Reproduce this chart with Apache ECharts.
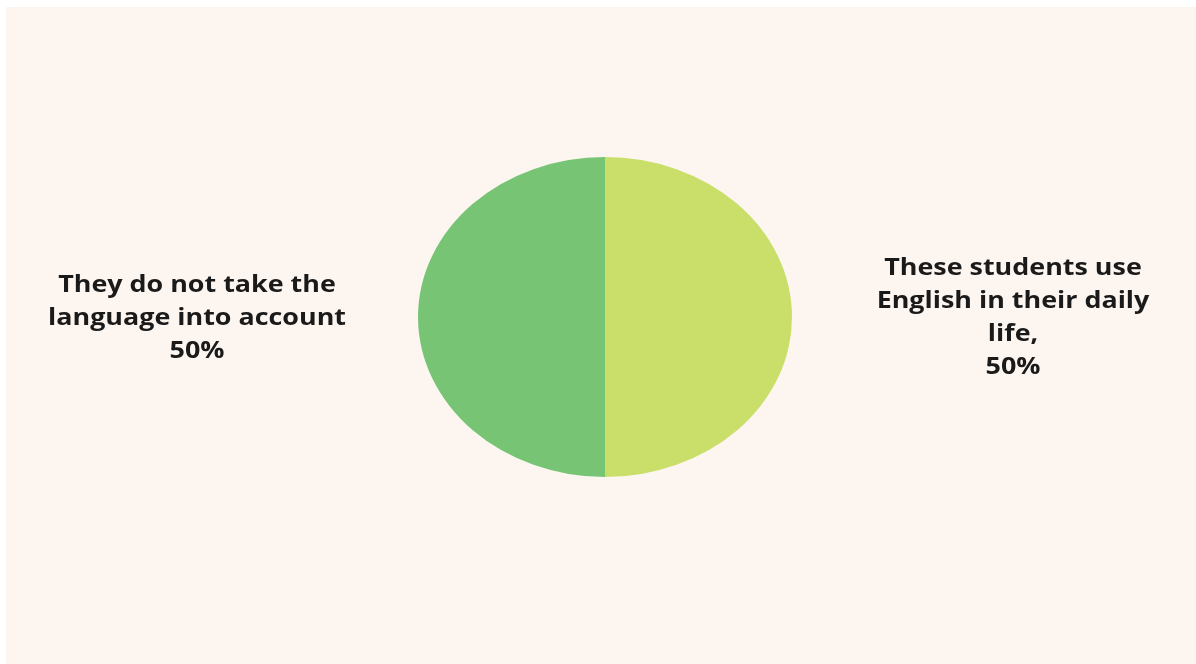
<!DOCTYPE html>
<html>
<head>
<meta charset="utf-8">
<script src="https://cdn.jsdelivr.net/npm/echarts@6/dist/echarts.min.js"></script>
<style>
  html, body { margin: 0; padding: 0; background: #ffffff; }
  #chart { position: absolute; left: 6px; top: 7px; width: 1190px; height: 657px; }
</style>
</head>
<body>
<div id="chart"></div>
<script>
// Slices, clockwise from 12 o'clock
const categories = [
  'These students use\nEnglish in their daily\nlife,',
  'They do not take the\nlanguage into account'
];
const values = [50, 50];
const colors = ['#c9df69', '#77c475'];

const chart = echarts.init(document.getElementById('chart'));

const total = values.reduce((a, b) => a + b, 0);
const starts = [];
let acc = 0;
values.forEach(v => { starts.push(acc); acc += v; });

// Whole figure is stretched horizontally: pie is an ellipse, text is widened too
const CX = 599, CY = 310, RX = 187, RY = 160, LABEL_GAP = 221;
const STRETCH = RX / RY;

function renderSlice(params, api) {
  const i = params.dataIndex;
  const v = api.value(0);
  const a0 = -Math.PI / 2 + starts[i] / total * Math.PI * 2;
  const a1 = a0 + v / total * Math.PI * 2;
  const mid = (a0 + a1) / 2;
  const lx = CX + Math.cos(mid) * (RX + LABEL_GAP);
  return {
    type: 'group',
    children: [
      {
        type: 'sector',
        x: CX, y: CY,
        scaleX: STRETCH, scaleY: 1,
        shape: { cx: 0, cy: 0, r0: 0, r: RY, startAngle: a0, endAngle: a1, clockwise: true },
        style: { fill: colors[i] }
      },
      {
        type: 'text',
        x: lx, y: CY + 1,
        scaleX: STRETCH, scaleY: 1,
        style: {
          text: categories[i] + '\n' + v + '%',
          fill: '#1a1a1a',
          font: 'bold 23px "Open Sans"',
          lineHeight: 33,
          align: 'center',
          verticalAlign: 'middle'
        }
      }
    ]
  };
}

chart.setOption({
  backgroundColor: '#fdf6f0',
  animation: false,
  series: [{
    type: 'custom',
    coordinateSystem: 'none',
    renderItem: renderSlice,
    data: values.map(v => [v])
  }]
});
</script>
</body>
</html>
